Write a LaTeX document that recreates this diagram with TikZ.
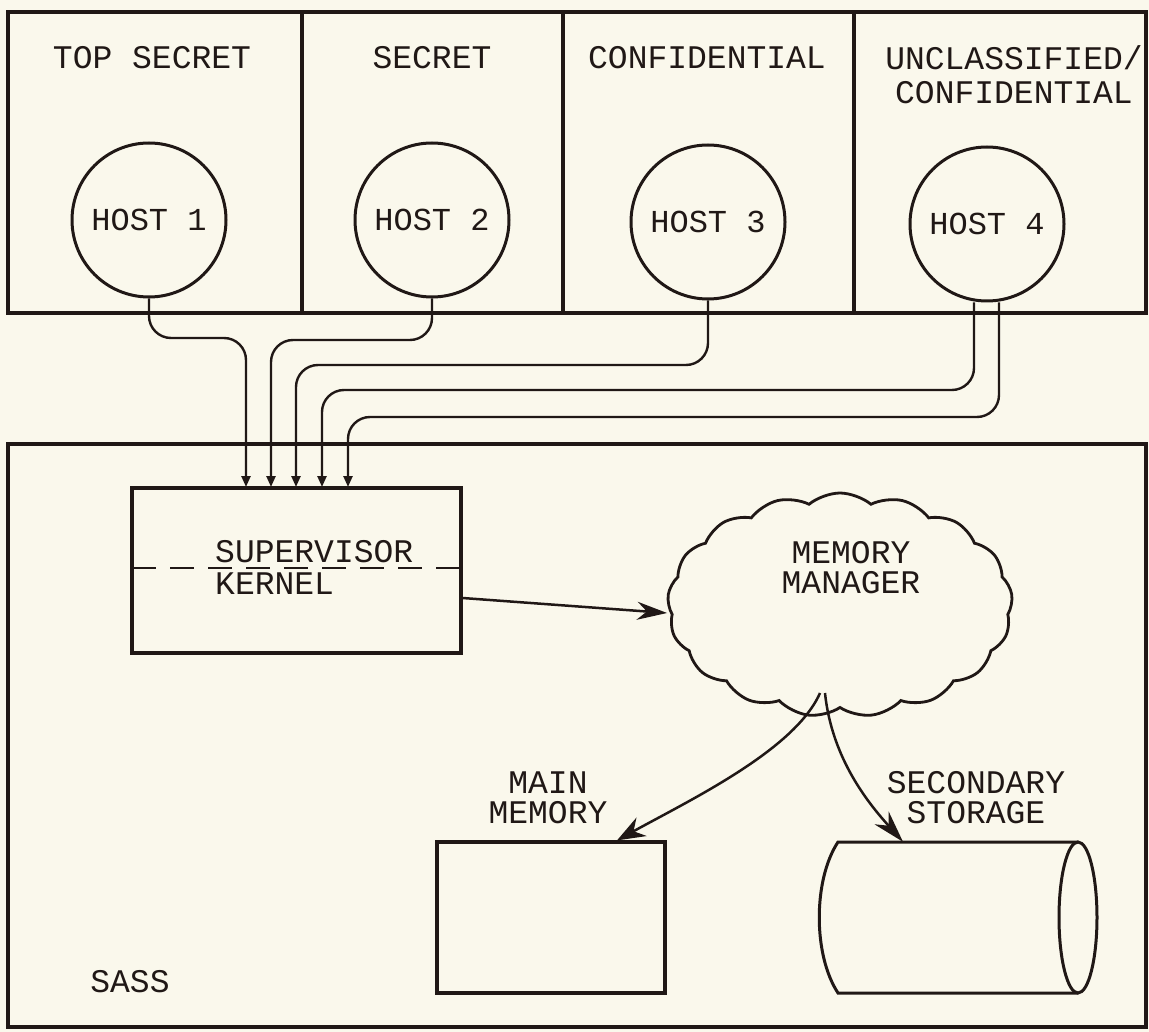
\documentclass[tikz,border=0pt]{standalone}
\usepackage{fontspec}
\newfontfamily\tw{Liberation Mono}
\usetikzlibrary{shapes.symbols,arrows.meta}
\definecolor{paper}{RGB}{250,248,236}
\definecolor{ink}{RGB}{32,24,22}
\begin{document}
\begin{tikzpicture}[x=1pt,y=-1pt,
  lbl/.style={font=\tw\fontsize{33}{34}\selectfont, text=ink, inner sep=0pt, align=center},
  frame/.style={draw=ink, line width=3.4pt},
  host/.style={circle, draw=ink, line width=3pt, minimum size=154pt, inner sep=0pt,
    font=\tw\fontsize{32}{34}\selectfont, text=ink},
  wire/.style={draw=ink, line width=2.4pt, rounded corners=22pt, -{Triangle[length=11pt,width=9pt]}},
  bigarrow/.style={draw=ink, line width=2.5pt, -{Stealth[length=30pt,width=18pt]}},
  boxnode/.style={draw=ink, line width=3.2pt, inner sep=0pt}
]
\fill[paper] (0,0) rectangle (1149,1032);
\useasboundingbox (0,0) rectangle (1149,1032);

% top security panels
\draw[frame] (8,12) rectangle (1146,313);
\draw[frame] (302,12) -- (302,313);
\draw[frame] (563,12) -- (563,313);
\draw[frame] (854,12) -- (854,313);

\node[lbl] (l1) at (152,58) {TOP SECRET};
\node[lbl] (l2) at (432,58) {SECRET};
\node[lbl] (l3) at (707,58) {CONFIDENTIAL};
\node[lbl] (l4) at (1014,75) {UNCLASSIFIED/\\CONFIDENTIAL};

\node[host] (h1) at (149,220) {HOST 1};
\node[host] (h2) at (432,220) {HOST 2};
\node[host] (h3) at (708,222) {HOST 3};
\node[host] (h4) at (987,224) {HOST 4};

% SASS frame
\draw[frame] (8,444) rectangle (1146,1027);
\node[lbl] (sass) at (130,982) {SASS};

% supervisor kernel
\node[boxnode, minimum width=329pt, minimum height=165pt] (sup) at (296.5,570.5) {};
\coordinate (dl) at (132,568);
\coordinate (dr) at (461,568);
\draw[ink, line width=2.6pt, dash pattern=on 24pt off 14pt] (dl) -- (dr);
\node[lbl, anchor=base west] (sv) at (215,562) {SUPERVISOR};
\node[lbl, anchor=base west] (kn) at (215,594) {KERNEL};

% wires from hosts
\coordinate (t1) at (246,487);
\coordinate (t2) at (271,487);
\coordinate (t3) at (296,487);
\coordinate (t4) at (322,487);
\coordinate (t5) at (348,487);
\draw[wire] (h1.south) |- (246,338) -- (t1);
\draw[wire] (h2.south) |- (271,340) -- (t2);
\draw[wire] (h3.south) |- (296,365) -- (t3);
\draw[wire] ([xshift=-13pt]h4.south) |- (322,390) -- (t4);
\draw[wire] ([xshift=12pt]h4.south) |- (348,417) -- (t5);

% memory manager cloud
\node[cloud, draw=ink, line width=2.8pt, cloud puffs=17, cloud puff arc=80, aspect=1.54,
  minimum width=345pt, minimum height=224pt, inner sep=0pt] (mm) at (840,605) {};
\node[lbl] (mmt) at (851,568) {MEMORY\\[-4pt]MANAGER};

\draw[bigarrow] ([yshift=-27.5pt]sup.east) -- ([yshift=-8pt]mm.west);

% main memory
\node[boxnode, minimum width=228pt, minimum height=151pt] (mem) at (551,917.5) {};
\node[lbl] (memt) at (548,798) {MAIN\\[-4pt]MEMORY};

% secondary storage cylinder
\node[inner sep=0pt, minimum width=258pt, minimum height=151pt] (sto) at (968,917.5) {};
\draw[ink, line width=3pt] (1078,842) -- (838,842) .. controls (813,880) and (813,955) .. (838,993) -- (1078,993);
\draw[ink, line width=3pt] (1078,917.5) ellipse [x radius=19pt, y radius=75.5pt];
\node[lbl] (stot) at (976,798) {SECONDARY\\[-4pt]STORAGE};

\coordinate (cs) at (820,693);
\draw[ink, line width=2.5pt, -{Stealth[length=28pt,width=21pt]}] (cs) .. controls (795,750) and (690,800) .. ([xshift=66pt]mem.north);
\draw[ink, line width=2.5pt, -{Stealth[length=32pt,width=19pt]}] ([xshift=5pt]cs) .. controls (832,760) and (870,805) .. ([xshift=-65pt]sto.north);
\end{tikzpicture}
\end{document}
